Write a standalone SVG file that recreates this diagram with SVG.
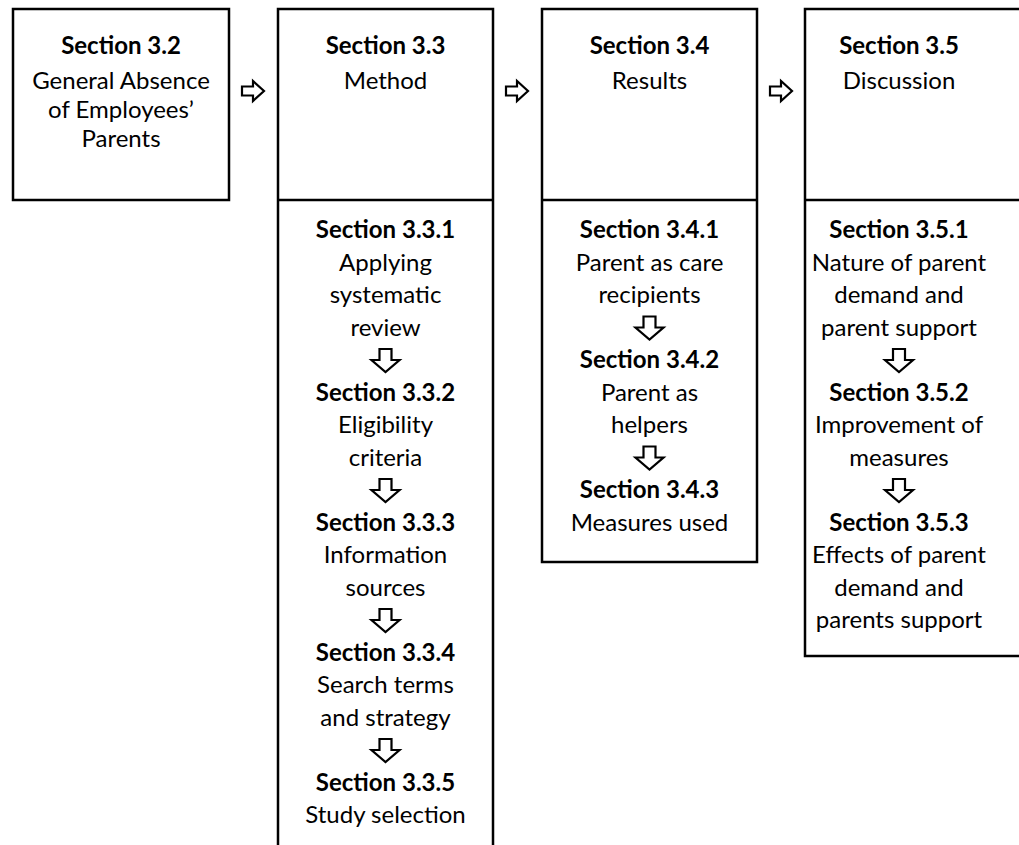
<svg xmlns="http://www.w3.org/2000/svg" width="1019" height="845" viewBox="0 0 1019 845">
<defs>
<style>
.box{fill:#fff;stroke:#000;stroke-width:2.5}
.div{stroke:#000;stroke-width:2.5}
text{font-family:Lato,"Open Sans","Liberation Sans",sans-serif;font-size:24px;fill:#000;text-anchor:middle}
.b{font-weight:bold}
.arr{fill:#fff;stroke:#000;stroke-width:2.2;stroke-linejoin:miter}
</style>
<path id="ra" d="M0,-4.5 H11 V-10 L22,0 L11,10 V4.5 H0 Z"/>
<path id="da" d="M-6,-11 V0 H-14 L0,12 L14,0 H6 V-11 Z"/>
</defs>
<rect width="1019" height="845" fill="#fff"/>
<g id="n1">
<rect class="box" x="13" y="9" width="216" height="191"/>
<text class="b" x="121" y="54">Section 3.2</text>
<text x="121" y="89">General Absence</text>
<text x="121" y="118">of Employees’</text>
<text x="121" y="147">Parents</text>
</g>
<g id="n2">
<rect class="box" x="278" y="9" width="215" height="850"/>
<line class="div" x1="278" y1="200" x2="493" y2="200"/>
<text class="b" x="385.5" y="54">Section 3.3</text>
<text x="385.5" y="89">Method</text>
<text class="b" x="385.5" y="238">Section 3.3.1</text>
<text x="385.5" y="270.5">Applying</text>
<text x="385.5" y="303">systematic</text>
<text x="385.5" y="335.5">review</text>
<text class="b" x="385.5" y="400.5">Section 3.3.2</text>
<text x="385.5" y="433">Eligibility</text>
<text x="385.5" y="465.5">criteria</text>
<text class="b" x="385.5" y="530.5">Section 3.3.3</text>
<text x="385.5" y="563">Information</text>
<text x="385.5" y="595.5">sources</text>
<text class="b" x="385.5" y="660.5">Section 3.3.4</text>
<text x="385.5" y="693">Search terms</text>
<text x="385.5" y="725.5">and strategy</text>
<text class="b" x="385.5" y="790.5">Section 3.3.5</text>
<text x="385.5" y="823">Study selection</text>
</g>
<g id="n3">
<rect class="box" x="542" y="9" width="215" height="553"/>
<line class="div" x1="542" y1="200" x2="757" y2="200"/>
<text class="b" x="649.5" y="54">Section 3.4</text>
<text x="649.5" y="89">Results</text>
<text class="b" x="649.5" y="238">Section 3.4.1</text>
<text x="649.5" y="270.5">Parent as care</text>
<text x="649.5" y="303">recipients</text>
<text class="b" x="649.5" y="368">Section 3.4.2</text>
<text x="649.5" y="400.5">Parent as</text>
<text x="649.5" y="433">helpers</text>
<text class="b" x="649.5" y="498">Section 3.4.3</text>
<text x="649.5" y="530.5">Measures used</text>
</g>
<g id="n4">
<rect class="box" x="805" y="9" width="230" height="647"/>
<line class="div" x1="805" y1="200" x2="1035" y2="200"/>
<text class="b" x="899" y="54">Section 3.5</text>
<text x="899" y="89">Discussion</text>
<text class="b" x="899" y="238">Section 3.5.1</text>
<text x="899" y="270.5">Nature of parent</text>
<text x="899" y="303">demand and</text>
<text x="899" y="335.5">parent support</text>
<text class="b" x="899" y="400.5">Section 3.5.2</text>
<text x="899" y="433">Improvement of</text>
<text x="899" y="465.5">measures</text>
<text class="b" x="899" y="530.5">Section 3.5.3</text>
<text x="899" y="563">Effects of parent</text>
<text x="899" y="595.5">demand and</text>
<text x="899" y="628">parents support</text>
</g>
<g id="connectors">
<use href="#ra" class="arr" x="242" y="91"/>
<use href="#ra" class="arr" x="506" y="91"/>
<use href="#ra" class="arr" x="770" y="91"/>
<use href="#da" class="arr" x="385.5" y="360"/>
<use href="#da" class="arr" x="385.5" y="490"/>
<use href="#da" class="arr" x="385.5" y="620"/>
<use href="#da" class="arr" x="385.5" y="750"/>
<use href="#da" class="arr" x="649.5" y="327.5"/>
<use href="#da" class="arr" x="649.5" y="457.5"/>
<use href="#da" class="arr" x="899" y="360"/>
<use href="#da" class="arr" x="899" y="490"/>
</g>
</svg>
